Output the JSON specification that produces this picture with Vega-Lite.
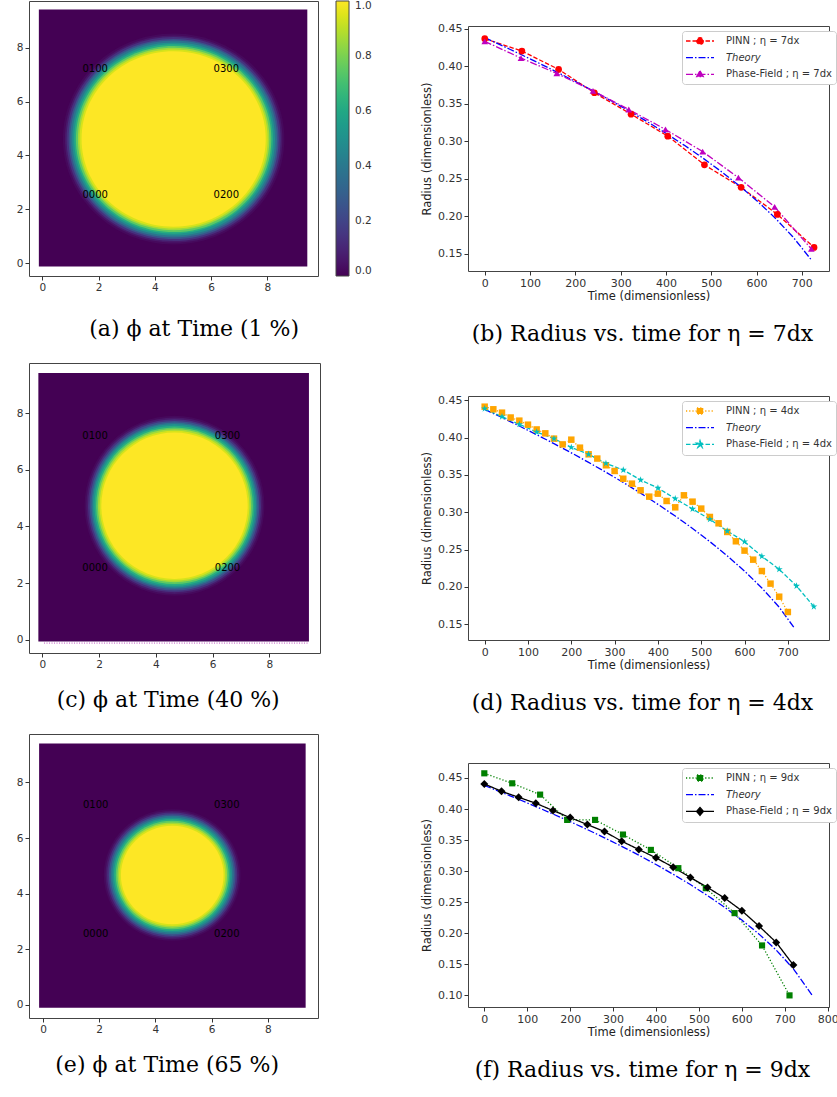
{
"$schema": "https://vega.github.io/schema/vega-lite/v6.json",
"padding": {"left": 15, "top": 0, "right": 0, "bottom": 0},
"config": {
  "view": {"stroke": "#444", "strokeWidth": 1},
  "axis": {"grid": false, "domain": false, "tickColor": "#333", "tickSize": 4, "labelFont": "DejaVu Sans", "labelFontSize": 10.5, "labelColor": "#333", "titleFont": "DejaVu Sans", "titleFontSize": 11.5, "titleFontWeight": "normal", "titleColor": "#222", "labelPadding": 2, "labelFlush": false, "labelOverlap": false},
  "title": {"font": "DejaVu Serif", "fontSize": 22, "fontWeight": "normal", "color": "black"}
},
"resolve": {"scale": {"color": "independent", "fill": "independent", "size": "independent", "shape": "independent", "strokeDash": "independent"}},
"spacing": 48,
"hconcat": [
{
  "spacing": 22,
  "resolve": {"scale": {"color": "independent", "fill": "independent", "size": "independent", "shape": "independent", "strokeDash": "independent"}},
  "vconcat": [
  {
    "width": 289, "height": 275,
    "title": {"text": "(a) ϕ at Time (1 %)", "orient": "bottom", "offset": 26, "anchor": "middle", "frame": "bounds"},
    "layer": [
      {"data": {"values": [{"x0": -0.12, "x1": 9.42, "y0": -0.13, "y1": 9.42, "phi": 0}]},
       "mark": {"type": "rect", "strokeWidth": 0},
       "encoding": {
         "x": {"field": "x0", "type": "quantitative", "scale": {"domain": [-0.47, 9.8], "nice": false, "zero": false}, "axis": {"title": null, "values": [0, 2, 4, 6, 8]}},
         "x2": {"field": "x1"},
         "y": {"field": "y0", "type": "quantitative", "scale": {"domain": [-0.48, 9.74], "nice": false, "zero": false}, "axis": {"title": null, "values": [0, 2, 4, 6, 8]}},
         "y2": {"field": "y1"},
         "color": {"field": "phi", "type": "quantitative", "scale": {"scheme": "viridis", "domain": [0, 1]},
           "legend": {"type": "gradient", "direction": "vertical", "orient": "right", "offset": 18, "gradientLength": 275, "gradientThickness": 13, "gradientStrokeColor": "#444", "gradientStrokeWidth": 1, "values": [0, 0.2, 0.4, 0.6, 0.8, 1], "format": ".1f", "labelFont": "DejaVu Sans", "labelFontSize": 10.5, "labelColor": "#333", "labelOffset": 6, "title": null, "padding": 0, "labelOverlap": false}}
       }},
      {"data": {"values": [
        {"cx": 4.67, "cy": 4.61, "r": 3.92, "phi": 0.02},
        {"cx": 4.67, "cy": 4.61, "r": 3.85, "phi": 0.06},
        {"cx": 4.67, "cy": 4.61, "r": 3.79, "phi": 0.14},
        {"cx": 4.67, "cy": 4.61, "r": 3.72, "phi": 0.25},
        {"cx": 4.67, "cy": 4.61, "r": 3.66, "phi": 0.38},
        {"cx": 4.67, "cy": 4.61, "r": 3.59, "phi": 0.5},
        {"cx": 4.67, "cy": 4.61, "r": 3.52, "phi": 0.62},
        {"cx": 4.67, "cy": 4.61, "r": 3.46, "phi": 0.75},
        {"cx": 4.67, "cy": 4.61, "r": 3.39, "phi": 0.86},
        {"cx": 4.67, "cy": 4.61, "r": 3.33, "phi": 0.94},
        {"cx": 4.67, "cy": 4.61, "r": 3.26, "phi": 1.0}]},
       "mark": {"type": "point", "filled": true, "opacity": 1, "strokeWidth": 0, "shape": "M1.025,0A1.025,0.976,0,1,1,-1.025,0A1.025,0.976,0,1,1,1.025,0Z"},
       "encoding": {
         "x": {"field": "cx", "type": "quantitative"},
         "y": {"field": "cy", "type": "quantitative"},
         "size": {"field": "r", "type": "quantitative", "scale": {"type": "pow", "exponent": 2, "domain": [0, 4], "range": [0, 48600]}, "legend": null},
         "color": {"field": "phi", "type": "quantitative"}
       }},
      {"data": {"values": [
        {"x": 1.43, "y": 7.2, "t": "0100"}, {"x": 6.09, "y": 7.2, "t": "0300"},
        {"x": 1.43, "y": 2.53, "t": "0000"}, {"x": 6.09, "y": 2.53, "t": "0200"}]},
       "mark": {"type": "text", "align": "left", "baseline": "middle", "font": "DejaVu Sans", "fontSize": 10, "color": "black"},
       "encoding": {"x": {"field": "x", "type": "quantitative"}, "y": {"field": "y", "type": "quantitative"}, "text": {"field": "t"}}}
    ]
  },
  {
    "width": 291, "height": 290,
    "title": {"text": "(c) ϕ at Time (40 %)", "orient": "bottom", "offset": 20, "anchor": "middle", "frame": "bounds"},
    "layer": [
      {"data": {"values": [{"x0": -0.14, "x1": 9.4, "y0": -0.06, "y1": 9.42, "phi": 0}]},
       "mark": {"type": "rect", "strokeWidth": 0},
       "encoding": {
         "x": {"field": "x0", "type": "quantitative", "scale": {"domain": [-0.47, 9.79], "nice": false, "zero": false}, "axis": {"title": null, "values": [0, 2, 4, 6, 8]}},
         "x2": {"field": "x1"},
         "y": {"field": "y0", "type": "quantitative", "scale": {"domain": [-0.47, 9.77], "nice": false, "zero": false}, "axis": {"title": null, "values": [0, 2, 4, 6, 8]}},
         "y2": {"field": "y1"},
         "color": {"field": "phi", "type": "quantitative", "scale": {"scheme": "viridis", "domain": [0, 1]}, "legend": null}
       }},
      {"data": {"values": [{"x0": 0.06, "x1": 9.38, "y": -0.12}]},
       "mark": {"type": "rule", "color": "#c050c0", "strokeDash": [1, 1.5], "strokeWidth": 1},
       "encoding": {"x": {"field": "x0", "type": "quantitative"}, "x2": {"field": "x1"}, "y": {"field": "y", "type": "quantitative"}}},
      {"data": {"values": [
        {"cx": 4.66, "cy": 4.73, "r": 3.17, "phi": 0.02},
        {"cx": 4.66, "cy": 4.73, "r": 3.11, "phi": 0.06},
        {"cx": 4.66, "cy": 4.73, "r": 3.05, "phi": 0.14},
        {"cx": 4.66, "cy": 4.73, "r": 2.99, "phi": 0.25},
        {"cx": 4.66, "cy": 4.73, "r": 2.93, "phi": 0.38},
        {"cx": 4.66, "cy": 4.73, "r": 2.88, "phi": 0.5},
        {"cx": 4.66, "cy": 4.73, "r": 2.82, "phi": 0.62},
        {"cx": 4.66, "cy": 4.73, "r": 2.76, "phi": 0.75},
        {"cx": 4.66, "cy": 4.73, "r": 2.7, "phi": 0.86},
        {"cx": 4.66, "cy": 4.73, "r": 2.64, "phi": 0.94},
        {"cx": 4.66, "cy": 4.73, "r": 2.58, "phi": 1.0}]},
       "mark": {"type": "point", "filled": true, "opacity": 1, "strokeWidth": 0, "shape": "circle"},
       "encoding": {
         "x": {"field": "cx", "type": "quantitative"},
         "y": {"field": "cy", "type": "quantitative"},
         "size": {"field": "r", "type": "quantitative", "scale": {"type": "pow", "exponent": 2, "domain": [0, 4], "range": [0, 51500]}, "legend": null},
         "color": {"field": "phi", "type": "quantitative", "legend": null}
       }},
      {"data": {"values": [
        {"x": 1.41, "y": 7.19, "t": "0100"}, {"x": 6.08, "y": 7.19, "t": "0300"},
        {"x": 1.41, "y": 2.54, "t": "0000"}, {"x": 6.08, "y": 2.54, "t": "0200"}]},
       "mark": {"type": "text", "align": "left", "baseline": "middle", "font": "DejaVu Sans", "fontSize": 10, "color": "black"},
       "encoding": {"x": {"field": "x", "type": "quantitative"}, "y": {"field": "y", "type": "quantitative"}, "text": {"field": "t"}}}
    ]
  },
  {
    "width": 289, "height": 284,
    "title": {"text": "(e) ϕ at Time (65 %)", "orient": "bottom", "offset": 20, "anchor": "middle", "frame": "bounds"},
    "layer": [
      {"data": {"values": [{"x0": -0.14, "x1": 9.35, "y0": -0.1, "y1": 9.4, "phi": 0}]},
       "mark": {"type": "rect", "strokeWidth": 0},
       "encoding": {
         "x": {"field": "x0", "type": "quantitative", "scale": {"domain": [-0.5, 9.79], "nice": false, "zero": false}, "axis": {"title": null, "values": [0, 2, 4, 6, 8]}},
         "x2": {"field": "x1"},
         "y": {"field": "y0", "type": "quantitative", "scale": {"domain": [-0.47, 9.74], "nice": false, "zero": false}, "axis": {"title": null, "values": [0, 2, 4, 6, 8]}},
         "y2": {"field": "y1"},
         "color": {"field": "phi", "type": "quantitative", "scale": {"scheme": "viridis", "domain": [0, 1]}, "legend": null}
       }},
      {"data": {"values": [
        {"cx": 4.6, "cy": 4.67, "r": 2.4, "phi": 0.02},
        {"cx": 4.6, "cy": 4.67, "r": 2.34, "phi": 0.06},
        {"cx": 4.6, "cy": 4.67, "r": 2.28, "phi": 0.14},
        {"cx": 4.6, "cy": 4.67, "r": 2.22, "phi": 0.25},
        {"cx": 4.6, "cy": 4.67, "r": 2.16, "phi": 0.38},
        {"cx": 4.6, "cy": 4.67, "r": 2.1, "phi": 0.5},
        {"cx": 4.6, "cy": 4.67, "r": 2.04, "phi": 0.62},
        {"cx": 4.6, "cy": 4.67, "r": 1.98, "phi": 0.75},
        {"cx": 4.6, "cy": 4.67, "r": 1.92, "phi": 0.86},
        {"cx": 4.6, "cy": 4.67, "r": 1.86, "phi": 0.94},
        {"cx": 4.6, "cy": 4.67, "r": 1.8, "phi": 1.0}]},
       "mark": {"type": "point", "filled": true, "opacity": 1, "strokeWidth": 0, "shape": "M1.02,0A1.02,0.98,0,1,1,-1.02,0A1.02,0.98,0,1,1,1.02,0Z"},
       "encoding": {
         "x": {"field": "cx", "type": "quantitative"},
         "y": {"field": "cy", "type": "quantitative"},
         "size": {"field": "r", "type": "quantitative", "scale": {"type": "pow", "exponent": 2, "domain": [0, 4], "range": [0, 50069]}, "legend": null},
         "color": {"field": "phi", "type": "quantitative", "legend": null}
       }},
      {"data": {"values": [
        {"x": 1.42, "y": 7.19, "t": "0100"}, {"x": 6.09, "y": 7.19, "t": "0300"},
        {"x": 1.42, "y": 2.55, "t": "0000"}, {"x": 6.09, "y": 2.55, "t": "0200"}]},
       "mark": {"type": "text", "align": "left", "baseline": "middle", "font": "DejaVu Sans", "fontSize": 10, "color": "black"},
       "encoding": {"x": {"field": "x", "type": "quantitative"}, "y": {"field": "y", "type": "quantitative"}, "text": {"field": "t"}}}
    ]
  }
  ]
},
{
  "spacing": 0,
  "resolve": {"scale": {"color": "independent", "fill": "independent", "size": "independent", "shape": "independent", "strokeDash": "independent"}},
  "vconcat": [
  {"width": 361, "height": 21, "view": {"stroke": null}, "data": {"values": []}, "mark": {"type": "text"}, "encoding": {}},
  {
  "spacing": 48,
  "resolve": {"scale": {"color": "independent", "fill": "independent", "size": "independent", "shape": "independent", "strokeDash": "independent"}},
  "vconcat": [
  {
    "width": 361, "height": 245,
    "title": {"text": "(b) Radius vs. time for η = 7dx", "orient": "bottom", "offset": 22, "anchor": "middle", "frame": "group", "dx": -6},
    "data": {"values": [
      {"t": 0, "r": 0.4367, "s": "PINN ; η = 7dx"}, {"t": 82, "r": 0.4202, "s": "PINN ; η = 7dx"}, {"t": 163, "r": 0.3958, "s": "PINN ; η = 7dx"}, {"t": 242, "r": 0.3647, "s": "PINN ; η = 7dx"}, {"t": 323, "r": 0.3362, "s": "PINN ; η = 7dx"}, {"t": 404, "r": 0.3069, "s": "PINN ; η = 7dx"}, {"t": 485, "r": 0.2687, "s": "PINN ; η = 7dx"}, {"t": 566, "r": 0.2387, "s": "PINN ; η = 7dx"}, {"t": 646, "r": 0.2027, "s": "PINN ; η = 7dx"}, {"t": 727, "r": 0.1587, "s": "PINN ; η = 7dx"},
      {"t": 0, "r": 0.438, "s": "Theory"}, {"t": 40, "r": 0.427, "s": "Theory"}, {"t": 80, "r": 0.4156, "s": "Theory"}, {"t": 120, "r": 0.404, "s": "Theory"}, {"t": 160, "r": 0.392, "s": "Theory"}, {"t": 200, "r": 0.3797, "s": "Theory"}, {"t": 240, "r": 0.3669, "s": "Theory"}, {"t": 280, "r": 0.3537, "s": "Theory"}, {"t": 320, "r": 0.34, "s": "Theory"}, {"t": 360, "r": 0.3257, "s": "Theory"}, {"t": 400, "r": 0.3107, "s": "Theory"}, {"t": 440, "r": 0.295, "s": "Theory"}, {"t": 480, "r": 0.2784, "s": "Theory"}, {"t": 520, "r": 0.2607, "s": "Theory"}, {"t": 560, "r": 0.2418, "s": "Theory"}, {"t": 600, "r": 0.2213, "s": "Theory"}, {"t": 640, "r": 0.1986, "s": "Theory"}, {"t": 680, "r": 0.173, "s": "Theory"}, {"t": 720, "r": 0.1428, "s": "Theory"},
      {"t": 0, "r": 0.4331, "s": "Phase-Field ; η = 7dx"}, {"t": 80, "r": 0.4109, "s": "Phase-Field ; η = 7dx"}, {"t": 159, "r": 0.3904, "s": "Phase-Field ; η = 7dx"}, {"t": 239, "r": 0.3673, "s": "Phase-Field ; η = 7dx"}, {"t": 318, "r": 0.3424, "s": "Phase-Field ; η = 7dx"}, {"t": 399, "r": 0.3158, "s": "Phase-Field ; η = 7dx"}, {"t": 481, "r": 0.2864, "s": "Phase-Field ; η = 7dx"}, {"t": 560, "r": 0.2516, "s": "Phase-Field ; η = 7dx"}, {"t": 640, "r": 0.2127, "s": "Phase-Field ; η = 7dx"}, {"t": 721, "r": 0.1567, "s": "Phase-Field ; η = 7dx"}
    ]},
    "encoding": {
      "x": {"field": "t", "type": "quantitative", "title": "Time (dimensionless)", "scale": {"domain": [-37, 760], "nice": false, "zero": false}, "axis": {"values": [0, 100, 200, 300, 400, 500, 600, 700], "labelFontSize": 11, "titlePadding": 2}},
      "y": {"field": "r", "type": "quantitative", "title": "Radius (dimensionless)", "scale": {"domain": [0.1273, 0.4536], "nice": false, "zero": false}, "axis": {"values": [0.15, 0.2, 0.25, 0.3, 0.35, 0.4, 0.45], "format": ".2f", "labelFontSize": 11, "titlePadding": 5}}
    },
    "layer": [
      {"mark": {"type": "line", "strokeWidth": 1.3},
       "encoding": {
         "color": {"field": "s", "type": "nominal", "scale": {"domain": ["PINN ; η = 7dx", "Theory", "Phase-Field ; η = 7dx"], "range": ["#ff0000", "#0000ff", "#bf00bf"]},
           "legend": {"orient": "none", "legendX": 214, "legendY": 5, "title": null, "symbolSize": 100, "symbolStrokeWidth": 1.3, "symbolOffset": 8, "labelOffset": 20, "rowPadding": 4.7, "padding": 4, "labelFont": "DejaVu Sans", "labelFontSize": 10, "labelColor": "#333", "labelLimit": 300, "strokeColor": "#cccccc", "fillColor": "white", "cornerRadius": 3, "labelFontStyle": {"expr": "datum.value === 'Theory' ? 'italic' : 'normal'"}}},
         "strokeDash": {"field": "s", "type": "nominal", "scale": {"domain": ["PINN ; η = 7dx", "Theory", "Phase-Field ; η = 7dx"], "range": [[4.5, 2], [7, 2, 1.5, 2], [7, 2, 1.5, 2]]},
           "legend": {"orient": "none", "legendX": 214, "legendY": 5, "title": null}}
       }},
      {"transform": [{"filter": "datum.s === 'PINN ; η = 7dx'"}],
       "mark": {"type": "point", "filled": true, "opacity": 1, "shape": "circle", "size": 45, "color": "#ff0000", "strokeWidth": 0}},
      {"transform": [{"filter": "datum.s === 'Phase-Field ; η = 7dx'"}],
       "mark": {"type": "point", "filled": true, "opacity": 1, "shape": "triangle-up", "size": 45, "color": "#bf00bf", "strokeWidth": 0}},
      {"transform": [{"filter": "false"}],
       "mark": {"type": "point", "filled": true, "opacity": 1},
       "encoding": {
         "fill": {"field": "s", "type": "nominal", "scale": {"domain": ["PINN ; η = 7dx", "Theory", "Phase-Field ; η = 7dx"], "range": ["#ff0000", "transparent", "#bf00bf"]},
           "legend": {"orient": "none", "legendX": 214, "legendY": 5, "title": null}},
         "shape": {"field": "s", "type": "nominal", "scale": {"domain": ["PINN ; η = 7dx", "Theory", "Phase-Field ; η = 7dx"], "range": ["M-2.8,0L2.8,0M0.66,0A0.66,0.66,0,1,1,-0.66,0A0.66,0.66,0,1,1,0.66,0Z", "M-2.8,0L2.8,0", "M-2.8,0L2.8,0M0,-0.72L0.66,0.46L-0.66,0.46Z"]},
           "legend": {"orient": "none", "legendX": 214, "legendY": 5, "title": null}}
       }}
    ]
  },
  {
    "width": 361, "height": 244,
    "title": {"text": "(d) Radius vs. time for η = 4dx", "orient": "bottom", "offset": 22, "anchor": "middle", "frame": "group", "dx": -6},
    "data": {"values": [
      {"t": 0, "r": 0.4415, "s": "PINN ; η = 4dx"}, {"t": 20, "r": 0.438, "s": "PINN ; η = 4dx"}, {"t": 40, "r": 0.4335, "s": "PINN ; η = 4dx"}, {"t": 60, "r": 0.427, "s": "PINN ; η = 4dx"}, {"t": 80, "r": 0.4228, "s": "PINN ; η = 4dx"}, {"t": 100, "r": 0.4174, "s": "PINN ; η = 4dx"}, {"t": 120, "r": 0.411, "s": "PINN ; η = 4dx"}, {"t": 140, "r": 0.4058, "s": "PINN ; η = 4dx"}, {"t": 160, "r": 0.3987, "s": "PINN ; η = 4dx"}, {"t": 180, "r": 0.391, "s": "PINN ; η = 4dx"}, {"t": 200, "r": 0.3973, "s": "PINN ; η = 4dx"}, {"t": 220, "r": 0.3866, "s": "PINN ; η = 4dx"}, {"t": 240, "r": 0.3777, "s": "PINN ; η = 4dx"}, {"t": 260, "r": 0.372, "s": "PINN ; η = 4dx"}, {"t": 280, "r": 0.363, "s": "PINN ; η = 4dx"}, {"t": 300, "r": 0.3554, "s": "PINN ; η = 4dx"}, {"t": 320, "r": 0.345, "s": "PINN ; η = 4dx"}, {"t": 340, "r": 0.3384, "s": "PINN ; η = 4dx"}, {"t": 360, "r": 0.3295, "s": "PINN ; η = 4dx"}, {"t": 380, "r": 0.321, "s": "PINN ; η = 4dx"}, {"t": 400, "r": 0.325, "s": "PINN ; η = 4dx"}, {"t": 420, "r": 0.3152, "s": "PINN ; η = 4dx"}, {"t": 440, "r": 0.3067, "s": "PINN ; η = 4dx"}, {"t": 460, "r": 0.3228, "s": "PINN ; η = 4dx"}, {"t": 480, "r": 0.3143, "s": "PINN ; η = 4dx"}, {"t": 500, "r": 0.305, "s": "PINN ; η = 4dx"}, {"t": 520, "r": 0.2938, "s": "PINN ; η = 4dx"}, {"t": 540, "r": 0.2853, "s": "PINN ; η = 4dx"}, {"t": 560, "r": 0.2737, "s": "PINN ; η = 4dx"}, {"t": 580, "r": 0.2612, "s": "PINN ; η = 4dx"}, {"t": 600, "r": 0.2487, "s": "PINN ; η = 4dx"}, {"t": 620, "r": 0.2366, "s": "PINN ; η = 4dx"}, {"t": 640, "r": 0.2214, "s": "PINN ; η = 4dx"}, {"t": 660, "r": 0.2045, "s": "PINN ; η = 4dx"}, {"t": 680, "r": 0.187, "s": "PINN ; η = 4dx"}, {"t": 700, "r": 0.1665, "s": "PINN ; η = 4dx"},
      {"t": 0, "r": 0.438, "s": "Theory"}, {"t": 40, "r": 0.427, "s": "Theory"}, {"t": 80, "r": 0.4156, "s": "Theory"}, {"t": 120, "r": 0.404, "s": "Theory"}, {"t": 160, "r": 0.392, "s": "Theory"}, {"t": 200, "r": 0.3797, "s": "Theory"}, {"t": 240, "r": 0.3669, "s": "Theory"}, {"t": 280, "r": 0.3537, "s": "Theory"}, {"t": 320, "r": 0.34, "s": "Theory"}, {"t": 360, "r": 0.3257, "s": "Theory"}, {"t": 400, "r": 0.3107, "s": "Theory"}, {"t": 440, "r": 0.295, "s": "Theory"}, {"t": 480, "r": 0.2784, "s": "Theory"}, {"t": 520, "r": 0.2607, "s": "Theory"}, {"t": 560, "r": 0.2418, "s": "Theory"}, {"t": 600, "r": 0.2213, "s": "Theory"}, {"t": 640, "r": 0.1986, "s": "Theory"}, {"t": 680, "r": 0.173, "s": "Theory"}, {"t": 715, "r": 0.145, "s": "Theory"},
      {"t": 0, "r": 0.4388, "s": "Phase-Field ; η = 4dx"}, {"t": 40, "r": 0.4281, "s": "Phase-Field ; η = 4dx"}, {"t": 80, "r": 0.4179, "s": "Phase-Field ; η = 4dx"}, {"t": 120, "r": 0.4076, "s": "Phase-Field ; η = 4dx"}, {"t": 160, "r": 0.3987, "s": "Phase-Field ; η = 4dx"}, {"t": 200, "r": 0.387, "s": "Phase-Field ; η = 4dx"}, {"t": 240, "r": 0.3777, "s": "Phase-Field ; η = 4dx"}, {"t": 280, "r": 0.3656, "s": "Phase-Field ; η = 4dx"}, {"t": 320, "r": 0.3567, "s": "Phase-Field ; η = 4dx"}, {"t": 360, "r": 0.3433, "s": "Phase-Field ; η = 4dx"}, {"t": 400, "r": 0.3326, "s": "Phase-Field ; η = 4dx"}, {"t": 440, "r": 0.3183, "s": "Phase-Field ; η = 4dx"}, {"t": 480, "r": 0.3045, "s": "Phase-Field ; η = 4dx"}, {"t": 520, "r": 0.2906, "s": "Phase-Field ; η = 4dx"}, {"t": 560, "r": 0.275, "s": "Phase-Field ; η = 4dx"}, {"t": 600, "r": 0.2607, "s": "Phase-Field ; η = 4dx"}, {"t": 640, "r": 0.2411, "s": "Phase-Field ; η = 4dx"}, {"t": 680, "r": 0.2237, "s": "Phase-Field ; η = 4dx"}, {"t": 720, "r": 0.2013, "s": "Phase-Field ; η = 4dx"}, {"t": 760, "r": 0.1737, "s": "Phase-Field ; η = 4dx"}
    ]},
    "encoding": {
      "x": {"field": "t", "type": "quantitative", "title": "Time (dimensionless)", "scale": {"domain": [-38.5, 795], "nice": false, "zero": false}, "axis": {"values": [0, 100, 200, 300, 400, 500, 600, 700], "labelFontSize": 11, "titlePadding": 2}},
      "y": {"field": "r", "type": "quantitative", "title": "Radius (dimensionless)", "scale": {"domain": [0.129, 0.4558], "nice": false, "zero": false}, "axis": {"values": [0.15, 0.2, 0.25, 0.3, 0.35, 0.4, 0.45], "format": ".2f", "labelFontSize": 11, "titlePadding": 5}}
    },
    "layer": [
      {"mark": {"type": "line", "strokeWidth": 1.3},
       "encoding": {
         "color": {"field": "s", "type": "nominal", "scale": {"domain": ["PINN ; η = 4dx", "Theory", "Phase-Field ; η = 4dx"], "range": ["#ffa500", "#0000ff", "#00bfbf"]},
           "legend": {"orient": "none", "legendX": 214, "legendY": 5, "title": null, "symbolSize": 100, "symbolStrokeWidth": 1.3, "symbolOffset": 8, "labelOffset": 20, "rowPadding": 4.7, "padding": 4, "labelFont": "DejaVu Sans", "labelFontSize": 10, "labelColor": "#333", "labelLimit": 300, "strokeColor": "#cccccc", "fillColor": "white", "cornerRadius": 3, "labelFontStyle": {"expr": "datum.value === 'Theory' ? 'italic' : 'normal'"}}},
         "strokeDash": {"field": "s", "type": "nominal", "scale": {"domain": ["PINN ; η = 4dx", "Theory", "Phase-Field ; η = 4dx"], "range": [[1.2, 2], [7, 2, 1.5, 2], [4.5, 2]]},
           "legend": {"orient": "none", "legendX": 214, "legendY": 5, "title": null}}
       }},
      {"transform": [{"filter": "datum.s === 'PINN ; η = 4dx'"}],
       "mark": {"type": "point", "filled": true, "opacity": 1, "shape": "square", "size": 42, "color": "#ffa500", "strokeWidth": 0}},
      {"transform": [{"filter": "datum.s === 'Phase-Field ; η = 4dx'"}],
       "mark": {"type": "point", "filled": true, "opacity": 1, "shape": "M0,-1L0.225,-0.309L0.951,-0.309L0.363,0.118L0.588,0.809L0,0.382L-0.588,0.809L-0.363,0.118L-0.951,-0.309L-0.225,-0.309Z", "size": 55, "color": "#00bfbf", "strokeWidth": 0}},
      {"transform": [{"filter": "false"}],
       "mark": {"type": "point", "filled": true, "opacity": 1},
       "encoding": {
         "fill": {"field": "s", "type": "nominal", "scale": {"domain": ["PINN ; η = 4dx", "Theory", "Phase-Field ; η = 4dx"], "range": ["#ffa500", "transparent", "#00bfbf"]},
           "legend": {"orient": "none", "legendX": 214, "legendY": 5, "title": null}},
         "shape": {"field": "s", "type": "nominal", "scale": {"domain": ["PINN ; η = 4dx", "Theory", "Phase-Field ; η = 4dx"], "range": ["M-2.8,0L2.8,0M-0.6,-0.6L0.6,-0.6L0.6,0.6L-0.6,0.6Z", "M-2.8,0L2.8,0", "M-2.8,0L2.8,0M0,-0.75L0.168,-0.232L0.713,-0.232L0.272,0.089L0.441,0.607L0,0.287L-0.441,0.607L-0.272,0.089L-0.713,-0.232L-0.168,-0.232Z"]},
           "legend": {"orient": "none", "legendX": 214, "legendY": 5, "title": null}}
       }}
    ]
  },
  {
    "width": 361, "height": 244,
    "title": {"text": "(f) Radius vs. time for η = 9dx", "orient": "bottom", "offset": 22, "anchor": "middle", "frame": "group", "dx": -6},
    "data": {"values": [
      {"t": 0, "r": 0.4575, "s": "PINN ; η = 9dx"}, {"t": 65, "r": 0.4414, "s": "PINN ; η = 9dx"}, {"t": 130, "r": 0.4232, "s": "PINN ; η = 9dx"}, {"t": 193, "r": 0.3825, "s": "PINN ; η = 9dx"}, {"t": 258, "r": 0.3825, "s": "PINN ; η = 9dx"}, {"t": 323, "r": 0.3589, "s": "PINN ; η = 9dx"}, {"t": 388, "r": 0.3342, "s": "PINN ; η = 9dx"}, {"t": 452, "r": 0.3048, "s": "PINN ; η = 9dx"}, {"t": 516, "r": 0.2726, "s": "PINN ; η = 9dx"}, {"t": 583, "r": 0.2324, "s": "PINN ; η = 9dx"}, {"t": 647, "r": 0.1804, "s": "PINN ; η = 9dx"}, {"t": 711, "r": 0.1, "s": "PINN ; η = 9dx"},
      {"t": 0, "r": 0.438, "s": "Theory"}, {"t": 40, "r": 0.427, "s": "Theory"}, {"t": 80, "r": 0.4156, "s": "Theory"}, {"t": 120, "r": 0.404, "s": "Theory"}, {"t": 160, "r": 0.392, "s": "Theory"}, {"t": 200, "r": 0.3797, "s": "Theory"}, {"t": 240, "r": 0.3669, "s": "Theory"}, {"t": 280, "r": 0.3537, "s": "Theory"}, {"t": 320, "r": 0.34, "s": "Theory"}, {"t": 360, "r": 0.3257, "s": "Theory"}, {"t": 400, "r": 0.3107, "s": "Theory"}, {"t": 440, "r": 0.295, "s": "Theory"}, {"t": 480, "r": 0.2784, "s": "Theory"}, {"t": 520, "r": 0.2607, "s": "Theory"}, {"t": 560, "r": 0.2418, "s": "Theory"}, {"t": 600, "r": 0.2213, "s": "Theory"}, {"t": 640, "r": 0.1986, "s": "Theory"}, {"t": 680, "r": 0.173, "s": "Theory"}, {"t": 720, "r": 0.1428, "s": "Theory"}, {"t": 764, "r": 0.1, "s": "Theory"},
      {"t": 0, "r": 0.4404, "s": "Phase-Field ; η = 9dx"}, {"t": 40, "r": 0.4286, "s": "Phase-Field ; η = 9dx"}, {"t": 80, "r": 0.4189, "s": "Phase-Field ; η = 9dx"}, {"t": 120, "r": 0.4093, "s": "Phase-Field ; η = 9dx"}, {"t": 160, "r": 0.3975, "s": "Phase-Field ; η = 9dx"}, {"t": 200, "r": 0.3862, "s": "Phase-Field ; η = 9dx"}, {"t": 240, "r": 0.375, "s": "Phase-Field ; η = 9dx"}, {"t": 280, "r": 0.3637, "s": "Phase-Field ; η = 9dx"}, {"t": 320, "r": 0.3482, "s": "Phase-Field ; η = 9dx"}, {"t": 360, "r": 0.3348, "s": "Phase-Field ; η = 9dx"}, {"t": 400, "r": 0.3214, "s": "Phase-Field ; η = 9dx"}, {"t": 440, "r": 0.3064, "s": "Phase-Field ; η = 9dx"}, {"t": 480, "r": 0.2898, "s": "Phase-Field ; η = 9dx"}, {"t": 520, "r": 0.2737, "s": "Phase-Field ; η = 9dx"}, {"t": 560, "r": 0.2566, "s": "Phase-Field ; η = 9dx"}, {"t": 600, "r": 0.2362, "s": "Phase-Field ; η = 9dx"}, {"t": 640, "r": 0.2115, "s": "Phase-Field ; η = 9dx"}, {"t": 680, "r": 0.1853, "s": "Phase-Field ; η = 9dx"}, {"t": 720, "r": 0.1488, "s": "Phase-Field ; η = 9dx"}
    ]},
    "encoding": {
      "x": {"field": "t", "type": "quantitative", "title": "Time (dimensionless)", "scale": {"domain": [-38, 803], "nice": false, "zero": false}, "axis": {"values": [0, 100, 200, 300, 400, 500, 600, 700, 800], "labelFontSize": 11, "titlePadding": 2}},
      "y": {"field": "r", "type": "quantitative", "title": "Radius (dimensionless)", "scale": {"domain": [0.0813, 0.4741], "nice": false, "zero": false}, "axis": {"values": [0.1, 0.15, 0.2, 0.25, 0.3, 0.35, 0.4, 0.45], "format": ".2f", "labelFontSize": 11, "titlePadding": 5}}
    },
    "layer": [
      {"mark": {"type": "line", "strokeWidth": 1.3},
       "encoding": {
         "color": {"field": "s", "type": "nominal", "scale": {"domain": ["PINN ; η = 9dx", "Theory", "Phase-Field ; η = 9dx"], "range": ["#008000", "#0000ff", "#000000"]},
           "legend": {"orient": "none", "legendX": 214, "legendY": 5, "title": null, "symbolSize": 100, "symbolStrokeWidth": 1.3, "symbolOffset": 8, "labelOffset": 20, "rowPadding": 4.7, "padding": 4, "labelFont": "DejaVu Sans", "labelFontSize": 10, "labelColor": "#333", "labelLimit": 300, "strokeColor": "#cccccc", "fillColor": "white", "cornerRadius": 3, "labelFontStyle": {"expr": "datum.value === 'Theory' ? 'italic' : 'normal'"}}},
         "strokeDash": {"field": "s", "type": "nominal", "scale": {"domain": ["PINN ; η = 9dx", "Theory", "Phase-Field ; η = 9dx"], "range": [[1.2, 2], [7, 2, 1.5, 2], [1, 0]]},
           "legend": {"orient": "none", "legendX": 214, "legendY": 5, "title": null}}
       }},
      {"transform": [{"filter": "datum.s === 'PINN ; η = 9dx'"}],
       "mark": {"type": "point", "filled": true, "opacity": 1, "shape": "square", "size": 38, "color": "#008000", "strokeWidth": 0}},
      {"transform": [{"filter": "datum.s === 'Phase-Field ; η = 9dx'"}],
       "mark": {"type": "point", "filled": true, "opacity": 1, "shape": "diamond", "size": 64, "color": "#000000", "strokeWidth": 0}},
      {"transform": [{"filter": "false"}],
       "mark": {"type": "point", "filled": true, "opacity": 1},
       "encoding": {
         "fill": {"field": "s", "type": "nominal", "scale": {"domain": ["PINN ; η = 9dx", "Theory", "Phase-Field ; η = 9dx"], "range": ["#008000", "transparent", "#000000"]},
           "legend": {"orient": "none", "legendX": 214, "legendY": 5, "title": null}},
         "shape": {"field": "s", "type": "nominal", "scale": {"domain": ["PINN ; η = 9dx", "Theory", "Phase-Field ; η = 9dx"], "range": ["M-2.8,0L2.8,0M-0.6,-0.6L0.6,-0.6L0.6,0.6L-0.6,0.6Z", "M-2.8,0L2.8,0", "M-2.8,0L2.8,0M0,-0.8L0.7,0L0,0.8L-0.7,0Z"]},
           "legend": {"orient": "none", "legendX": 214, "legendY": 5, "title": null}}
       }}
    ]
  }
  ]
  }
  ]
}
]
}
